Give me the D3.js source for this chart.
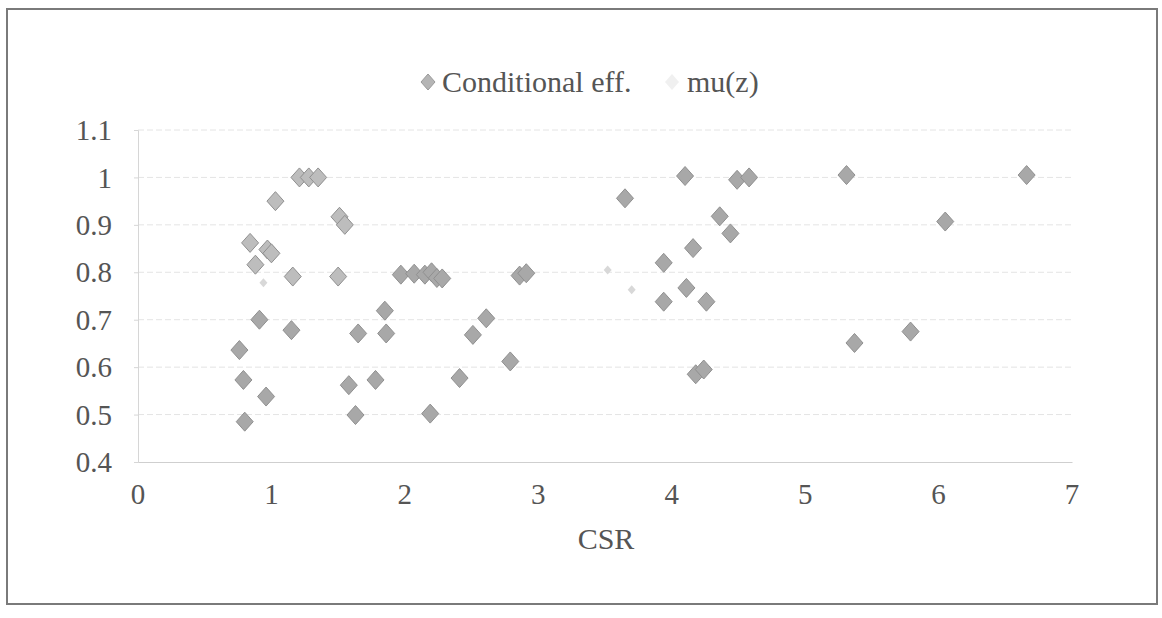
<!DOCTYPE html>
<html>
<head>
<meta charset="utf-8">
<script src="https://cdn.jsdelivr.net/npm/d3@7"></script>
<style>
  html, body { margin: 0; padding: 0; background: #fff; }
  svg { display: block; }
  svg text { fill: #555555; }
</style>
</head>
<body>
<svg id="chart" width="1162" height="618"></svg>
<script>
// ---- data ----
const seriesNames = ["Conditional eff.", "mu(z)"];
const xTicks = [0, 1, 2, 3, 4, 5, 6, 7];
const yTicks = [0.4, 0.5, 0.6, 0.7, 0.8, 0.9, 1.0, 1.1];
const yTickLabels = ["0.4", "0.5", "0.6", "0.7", "0.8", "0.9", "1", "1.1"];
const xTitle = "CSR";

const csr = [1.21, 1.28, 1.35, 1.03, 1.51, 1.55, 0.84, 0.97, 1.00, 0.88,
             1.16, 1.50, 1.97, 2.07, 2.15, 2.20, 2.24, 2.28, 2.86, 2.91,
             1.85, 0.91, 1.15, 1.65, 1.86, 2.61, 2.51, 0.76, 2.79, 0.79,
             1.58, 1.78, 2.41, 0.96, 1.63, 2.19, 0.80, 3.65, 4.10, 4.49,
             4.58, 4.36, 4.44, 4.16, 3.94, 4.11, 3.94, 4.26, 4.18, 4.24,
             5.31, 6.66, 6.05, 5.37, 5.79];
const condEff = [1.0, 1.0, 1.0, 0.95, 0.917, 0.90, 0.862, 0.848, 0.840, 0.816,
                 0.791, 0.791, 0.795, 0.797, 0.795, 0.800, 0.788, 0.787, 0.793, 0.798,
                 0.719, 0.70, 0.678, 0.671, 0.671, 0.703, 0.668, 0.636, 0.612, 0.573,
                 0.562, 0.573, 0.577, 0.538, 0.499, 0.502, 0.485, 0.956, 1.003, 0.995,
                 1.0, 0.918, 0.882, 0.851, 0.820, 0.767, 0.738, 0.738, 0.585, 0.595,
                 1.005, 1.005, 0.907, 0.651, 0.675];

// mu(z): almost invisible in the scan, only faint traces remain
const muX = [0.94, 3.52, 3.70];
const muZ = [0.778, 0.805, 0.763];

// ---- drawing ----
const FONT = "Liberation Serif, Tinos, Noto Serif, DejaVu Serif, FreeSerif, Nimbus Roman, Times, serif";
const svg = d3.select("#chart");

const x = d3.scaleLinear().domain([0, 7]).range([138, 1072]);
const y = d3.scaleLinear().domain([0.4, 1.1]).range([462, 130]);

// outer frame
svg.append("rect")
  .attr("x", 7).attr("y", 9).attr("width", 1150).attr("height", 595)
  .attr("fill", "none").attr("stroke", "#7a7a7a").attr("stroke-width", 2);

// gridlines
svg.append("g").selectAll("line")
  .data(yTicks.slice(1))
  .join("line")
  .attr("x1", x(0)).attr("x2", x(7))
  .attr("y1", d => y(d)).attr("y2", d => y(d))
  .attr("stroke", "#e4e4e4").attr("stroke-width", 1)
  .attr("stroke-dasharray", "6,3");

// axes
const yAxis = d3.axisLeft(y).tickValues(yTicks).tickSize(4).tickFormat("");
svg.append("g").attr("transform", `translate(${x(0)},0)`).call(yAxis)
  .call(g => g.selectAll("line, path").attr("stroke", "#d6d6d6"));
const xAxis = d3.axisBottom(x).tickValues(xTicks).tickSize(0).tickFormat("");
svg.append("g").attr("transform", `translate(0,${y(0.4)})`).call(xAxis)
  .call(g => g.selectAll("line, path").attr("stroke", "#cfcfcf"));

// tick labels
svg.append("g").selectAll("text")
  .data(yTicks)
  .join("text")
  .attr("x", 112).attr("y", d => y(d))
  .attr("dy", "0.35em")
  .attr("text-anchor", "end")
  .style("font-family", FONT)
  .attr("font-size", 29)
  .text((d, i) => yTickLabels[i]);

svg.append("g").selectAll("text")
  .data(xTicks)
  .join("text")
  .attr("x", d => x(d)).attr("y", 504)
  .attr("text-anchor", "middle")
  .style("font-family", FONT)
  .attr("font-size", 29)
  .text(d => d);

svg.append("text")
  .attr("x", 606).attr("y", 549)
  .attr("text-anchor", "middle")
  .style("font-family", FONT)
  .attr("font-size", 30)
  .text(xTitle);

// diamond marker path
function diamond(cx, cy, hw, hh) {
  return `M${cx},${cy - hh}L${cx + hw},${cy}L${cx},${cy + hh}L${cx - hw},${cy}Z`;
}

const pts = csr.map((v, i) => ({ x: v, y: condEff[i] }));
svg.append("g").selectAll("path")
  .data(pts)
  .join("path")
  .attr("d", d => diamond(x(d.x), y(d.y), 8.5, 9.5))
  .attr("fill", d => d.x < 1.6 && d.y > 0.75 ? "#bdbdbd" : "#a8a8a8")
  .attr("stroke", "#909090").attr("stroke-width", 1);

const muPts = muX.map((v, i) => ({ x: v, y: muZ[i] }));
svg.append("g").selectAll("path")
  .data(muPts)
  .join("path")
  .attr("d", d => diamond(x(d.x), y(d.y), 4, 4.5))
  .attr("fill", "#d8d8d8");

// legend
svg.append("path").attr("d", diamond(428, 82, 7, 8))
  .attr("fill", "#b5b5b5").attr("stroke", "#9a9a9a");
svg.append("text").attr("x", 442).attr("y", 92)
  .style("font-family", FONT).attr("font-size", 30).text(seriesNames[0]);
svg.append("path").attr("d", diamond(672, 82, 7, 8)).attr("fill", "#f0f0f0");
svg.append("text").attr("x", 687).attr("y", 92)
  .style("font-family", FONT).attr("font-size", 30).text(seriesNames[1]);
</script>
</body>
</html>
